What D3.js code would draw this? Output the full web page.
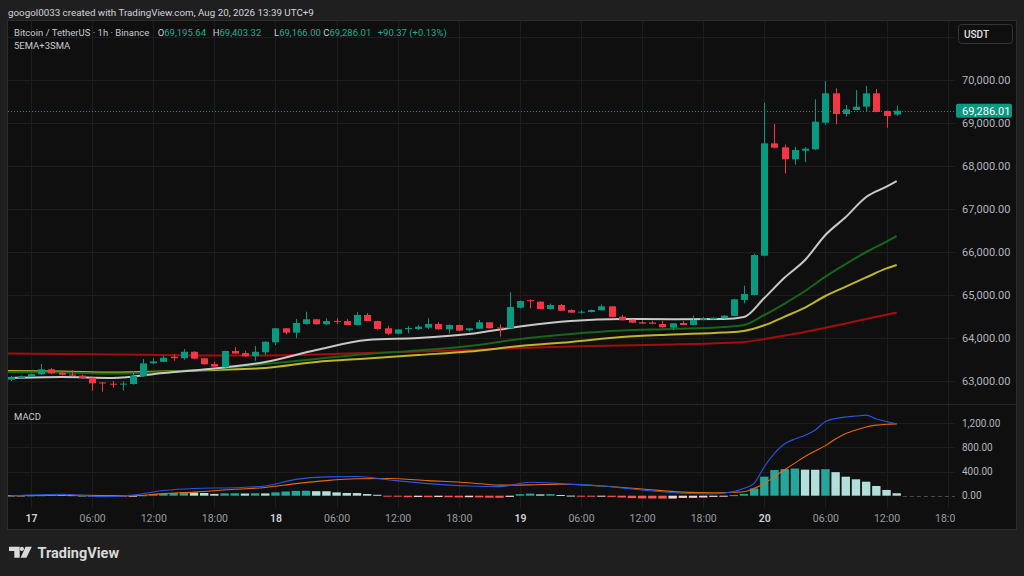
<!DOCTYPE html>
<html>
<head>
<meta charset="utf-8">
<script src="https://cdn.jsdelivr.net/npm/d3@7"></script>
<style>
  html, body { margin: 0; padding: 0; background: #1f1f1f; }
  svg { display: block; font-family: Roboto, "Noto Sans", sans-serif; }
</style>
</head>
<body>
<svg id="chart" width="1024" height="576"></svg>
<script>
// hourly candles, first one is Aug 16 22:00
var HOUR = 3600000;
var t0 = Date.UTC(2026, 7, 16, 22);

var opens  = [63030,63070,63100,63156,63272,63195,63150,63125,63075,62965,62937,62920,62930,63110,63412,63445,63565,63530,63680,63528,
              63395,63320,63698,63650,63575,63667,63900,64226,64125,64326,64435,64320,64398,64395,64302,64535,64395,64226,64100,64205,
              64210,64240,64326,64202,64302,64179,64216,64365,64245,64226,64705,64880,64845,64674,64767,64651,64590,64605,64644,64737,
              64496,64426,64365,64360,64326,64240,64349,64302,64426,64435,64458,64512,64884,65000,65914,68527,68435,68156,68356,68388,
              69007,69690,69209,69302,69380,69690,69280,69195.64];
var highs  = [63120,63130,63170,63395,63300,63205,63255,63150,63080,62975,63000,62990,63233,63512,63528,63590,63620,63745,63690,63530,
              63450,63705,63785,63705,63815,63920,64235,64230,64442,64612,64440,64460,64460,64440,64600,64580,64400,64286,64210,64280,
              64300,64458,64370,64320,64310,64235,64420,64370,64318,65063,64870,64900,64850,64800,64790,64670,64650,64665,64780,64745,
              64540,64430,64410,64400,64400,64350,64395,64520,64490,64480,64530,64910,65217,65960,69473,68977,68500,68450,68440,69551,
              69977,69806,69419,69767,69860,69790,69290,69403.32];
var lows   = [63000,63060,63095,63140,63160,63135,63110,63050,62775,62750,62845,62775,62915,63100,63395,63440,63470,63495,63510,63380,
              63325,63310,63630,63565,63470,63605,63837,64085,63993,64310,64310,64300,64320,64295,64295,64390,64195,64070,64080,64110,
              64190,64210,64195,64110,64160,64150,64210,64220,64030,64220,64690,64690,64670,64665,64630,64585,64570,64595,64640,64485,
              64405,64350,64325,64320,64240,64190,64295,64295,64420,64430,64450,64505,64807,64990,65900,68410,67822,68030,68093,68370,
              68953,68969,69150,69295,69263,69250,68891,69166.00];
var closes = [63090,63110,63160,63272,63180,63145,63125,63070,62945,62955,62915,62940,63116,63410,63455,63540,63530,63680,63520,63390,
              63335,63698,63638,63575,63680,63914,64226,64125,64350,64435,64320,64395,64392,64302,64535,64395,64210,64100,64200,64232,
              64264,64326,64202,64302,64171,64226,64365,64226,64235,64721,64860,64870,64675,64767,64635,64590,64612,64651,64737,64490,
              64412,64357,64335,64330,64250,64342,64302,64419,64458,64472,64519,64900,65023,65930,68527,68426,68156,68372,68403,69031,
              69690,69209,69318,69380,69690,69256,69165,69286.01];

// moving averages read at these candle positions
var maIdx    = [-0.3,5,10,15,20,25,30,35,40,45,50,55,60,65,70,72,74,76,78,80,82,84,86,87];
var maWhite  = [63070,63093,63070,63186,63291,63442,63721,63953,64000,64093,64267,64395,64442,64435,64442,64488,64930,65407,65814,66395,66814,67279,67521,67651];
var maGreen  = [63209,63198,63174,63209,63279,63395,63512,63628,63709,63814,63977,64093,64174,64209,64256,64302,64535,64802,65093,65426,65721,66000,66244,66372];
var maYellow = [63233,63221,63198,63221,63256,63302,63442,63523,63605,63686,63814,63907,64023,64081,64128,64163,64295,64498,64707,64977,65195,65409,65619,65698];
var maRed    = [63640,63628,63616,63605,63593,63593,63616,63651,63686,63721,63767,63802,63826,63849,63884,63907,63974,64056,64140,64237,64337,64442,64542,64593];

// MACD pane
var macdIdx    = [0,5,9,12,15,18,22,25,28,31,34,37,41,45,48,51,54,58,62,66,69,71,72,73,74,75,76,77,78,79,80,81,82,83,84,85,86,87];
var macdLine   = [0,25,-15,10,85,120,133,160,270,312,318,265,200,160,150,222,200,160,95,40,30,70,122,205,480,700,860,940,1000,1090,1230,1280,1305,1320,1335,1270,1230,1190];
var signalLine = [0,8,3,0,35,60,106,137,200,250,280,285,250,215,175,180,190,160,110,60,50,58,66,122,200,320,430,540,650,740,830,940,1030,1090,1140,1170,1185,1190];
var histogram  = [5,5,6,8,12,12,10,5,-5,-10,-14,-14,-8,8,25,35,45,55,52,45,
                  30,38,40,36,40,38,55,70,80,82,75,74,55,45,44,28,15,-8,-15,-25,
                  -22,-25,-22,-25,-28,-25,-28,-32,-33,-20,25,35,22,26,12,2,-5,-10,-9,-20,
                  -30,-40,-45,-46,-48,-47,-36,-35,-30,-20,-10,10,30,120,315,425,440,450,432,430,
                  440,390,315,272,232,161,95,40];

var priceTicks = [63000,64000,65000,66000,67000,68000,69000,70000];
var priceGrid  = [63000,64000,65000,66000,67000,68000,69000,70000,71000];
var macdTicks  = [0,400,800,1200];

var upColor = "#089981", downColor = "#f23645";
var gridColor = "#1d1d1d";
var lastClose = closes[closes.length - 1];

function tAt(i) { return new Date(t0 + i * HOUR); }

var svg = d3.select("#chart");
var plotLeft = 8, plotRight = 955, plotTop = 21, priceBottom = 404, macdBottom = 508, plotBottom = 529;

var x = d3.scaleUtc().domain([tAt(0), tAt(87)]).range([10.7, 896.7]);
var step = x(tAt(1)) - x(tAt(0));
var y = d3.scaleLinear().domain([63000, 70000]).range([381, 80]);
var ym = d3.scaleLinear().domain([0, 1200]).range([495.7, 423.3]);

// background + panel
svg.append("rect").attr("width", 1024).attr("height", 576).attr("fill", "#1f1f1f");
svg.append("rect").attr("x", 7.5).attr("y", 20.5).attr("width", 1009).attr("height", 509)
  .attr("fill", "#0f0f0f").attr("stroke", "#2c2c2c");

var defs = svg.append("defs");
defs.append("clipPath").attr("id", "clipPrice").append("rect")
  .attr("x", plotLeft).attr("y", plotTop).attr("width", plotRight - plotLeft).attr("height", priceBottom - plotTop);
defs.append("clipPath").attr("id", "clipMacd").append("rect")
  .attr("x", plotLeft).attr("y", priceBottom).attr("width", plotRight - plotLeft).attr("height", macdBottom - priceBottom);
defs.append("clipPath").attr("id", "clipTime").append("rect")
  .attr("x", plotLeft).attr("y", macdBottom).attr("width", plotRight - plotLeft).attr("height", plotBottom - macdBottom);

// grid
var timeTicks = d3.utcHour.every(6).range(x.invert(plotLeft), x.invert(plotRight + 2));
var grid = svg.append("g");
grid.selectAll(".vg").data(timeTicks).enter().append("line")
  .attr("x1", function(d) { return Math.round(x(d)) + 0.5; })
  .attr("x2", function(d) { return Math.round(x(d)) + 0.5; })
  .attr("y1", plotTop).attr("y2", macdBottom)
  .attr("stroke", gridColor);
grid.selectAll(".hg").data(priceGrid).enter().append("line")
  .attr("x1", plotLeft).attr("x2", plotRight)
  .attr("y1", function(d) { return Math.round(y(d)) + 0.5; })
  .attr("y2", function(d) { return Math.round(y(d)) + 0.5; })
  .attr("stroke", gridColor);
grid.selectAll(".mg").data(macdTicks.slice(1)).enter().append("line")
  .attr("x1", plotLeft).attr("x2", plotRight)
  .attr("y1", function(d) { return Math.round(ym(d)) + 0.5; })
  .attr("y2", function(d) { return Math.round(ym(d)) + 0.5; })
  .attr("stroke", gridColor);
// pane separator
svg.append("line").attr("x1", plotLeft).attr("x2", 1016).attr("y1", 404.5).attr("y2", 404.5)
  .attr("stroke", "#262626");

// price pane
var pricePane = svg.append("g").attr("clip-path", "url(#clipPrice)");

var maLine = d3.line()
  .x(function(d) { return x(tAt(d[0])); })
  .y(function(d) { return y(d[1]); })
  .curve(d3.curveMonotoneX);

[[maRed, "#a50d0d"], [maYellow, "#bdb52a"], [maGreen, "#17661a"], [maWhite, "#c8c8c8"]].forEach(function(s) {
  pricePane.append("path")
    .datum(maIdx.map(function(i, k) { return [i, s[0][k]]; }))
    .attr("d", maLine)
    .attr("fill", "none")
    .attr("stroke", s[1])
    .attr("stroke-width", 2);
});

var candles = opens.map(function(o, i) {
  return { t: tAt(i), o: o, h: highs[i], l: lows[i], c: closes[i] };
});
var bw = Math.round(step * 0.7);

pricePane.selectAll(".wick").data(candles).enter().append("line")
  .attr("x1", function(d) { return Math.round(x(d.t)) + 0.5; })
  .attr("x2", function(d) { return Math.round(x(d.t)) + 0.5; })
  .attr("y1", function(d) { return y(d.h); })
  .attr("y2", function(d) { return y(d.l); })
  .attr("stroke", function(d) { return d.c >= d.o ? upColor : downColor; })
  .attr("stroke-width", 1);

pricePane.selectAll(".body").data(candles).enter().append("rect")
  .attr("x", function(d) { return Math.round(x(d.t)) + 0.5 - bw / 2; })
  .attr("y", function(d) { return y(Math.max(d.o, d.c)); })
  .attr("width", bw)
  .attr("height", function(d) { return Math.max(1, Math.abs(y(d.o) - y(d.c))); })
  .attr("fill", function(d) { return d.c >= d.o ? upColor : downColor; });

// last price dotted line
pricePane.append("line")
  .attr("x1", plotLeft).attr("x2", plotRight)
  .attr("y1", Math.round(y(lastClose)) + 0.5).attr("y2", Math.round(y(lastClose)) + 0.5)
  .attr("stroke", upColor).attr("stroke-dasharray", "1,2");

// MACD pane
var macdPane = svg.append("g").attr("clip-path", "url(#clipMacd)");
var hw = step - 1.8;
macdPane.selectAll(".hist").data(histogram).enter().append("rect")
  .attr("x", function(d, i) { return x(tAt(i)) - hw / 2; })
  .attr("y", function(d) { return Math.min(ym(d), ym(0)); })
  .attr("width", hw)
  .attr("height", function(d) { return Math.max(1, Math.abs(ym(d) - ym(0))); })
  .attr("fill", function(d, i) {
    var prev = i > 0 ? histogram[i - 1] : d;
    if (d >= 0) return prev < d ? "#26a69a" : "#b2dfdb";
    return prev < d ? "#ffcdd2" : "#ff5252";
  });

macdPane.append("line")
  .attr("x1", x(tAt(87)) + hw / 2 + 2).attr("x2", plotRight)
  .attr("y1", Math.round(ym(0)) + 0.5).attr("y2", Math.round(ym(0)) + 0.5)
  .attr("stroke", "#4a4a4a").attr("stroke-dasharray", "4,3");

var macdPath = d3.line()
  .x(function(d) { return x(tAt(d[0])); })
  .y(function(d) { return ym(d[1]); })
  .curve(d3.curveMonotoneX);

[[signalLine, "#e8680c"], [macdLine, "#2a55e6"]].forEach(function(s) {
  macdPane.append("path")
    .datum(macdIdx.map(function(i, k) { return [i, s[0][k]]; }))
    .attr("d", macdPath)
    .attr("fill", "none")
    .attr("stroke", s[1])
    .attr("stroke-width", 1.1);
});

// axes
var priceAxis = svg.append("g")
  .attr("transform", "translate(" + plotRight + ",0)")
  .call(d3.axisRight(y).tickValues(priceTicks).tickFormat(d3.format(",.2f")).tickSize(0).tickPadding(7));
var macdAxis = svg.append("g")
  .attr("transform", "translate(" + plotRight + ",0)")
  .call(d3.axisRight(ym).tickValues(macdTicks).tickFormat(d3.format(",.2f")).tickSize(0).tickPadding(7));
[priceAxis, macdAxis].forEach(function(a) {
  a.select(".domain").remove();
  a.selectAll("text").attr("fill", "#b2b5be").attr("font-family", "Roboto, sans-serif");
});
priceAxis.selectAll("text").attr("font-size", 11);
macdAxis.selectAll("text").attr("font-size", 10);

var timeFmt = function(d) {
  return d.getUTCHours() === 0 ? String(d.getUTCDate()) : d3.utcFormat("%H:%M")(d);
};
var timeAxis = svg.append("g")
  .attr("clip-path", "url(#clipTime)")
  .append("g")
  .attr("transform", "translate(0," + macdBottom + ")")
  .call(d3.axisBottom(x).tickValues(timeTicks).tickFormat(timeFmt).tickSize(0).tickPadding(7));
timeAxis.select(".domain").remove();
timeAxis.selectAll("text")
  .attr("font-size", 10.5)
  .attr("font-family", "Roboto, sans-serif")
  .attr("fill", function(d) { return d.getUTCHours() === 0 ? "#d1d4dc" : "#9a9da6"; })
  .attr("font-weight", function(d) { return d.getUTCHours() === 0 ? 600 : 400; });

// last price label
svg.append("rect").attr("x", 956).attr("y", y(lastClose) - 7).attr("width", 56).attr("height", 14)
  .attr("rx", 2).attr("fill", upColor);
svg.append("text").attr("x", 962).attr("y", y(lastClose) + 3.9)
  .attr("font-size", 11).attr("fill", "#ffffff")
  .text(d3.format(",.2f")(lastClose));

// USDT box
svg.append("rect").attr("x", 958.5).attr("y", 24.5).attr("width", 54).attr("height", 19)
  .attr("rx", 3).attr("fill", "#0f0f0f").attr("stroke", "#353535");
svg.append("text").attr("x", 964).attr("y", 37.5).attr("font-size", 10).attr("font-weight", 500)
  .attr("fill", "#e0e0e0").text("USDT");

// header texts
svg.append("text").attr("x", 8).attr("y", 15.7).attr("font-size", 9.8).attr("fill", "#d1d4dc")
  .text("googol0033 created with TradingView.com, Aug 20, 2026 13:39 UTC+9");

var legend = svg.append("text").attr("y", 36.4).attr("font-size", 9.5).attr("fill", "#c8cad0");
legend.append("tspan").attr("x", 14).text("Bitcoin / TetherUS \u00b7 1h \u00b7 Binance");
var green = "#22ab94";
var ohlc = [["O", opens], ["H", highs], ["L", lows], ["C", closes]];
var ohlcX = [157.7, 212.7, 274, 323.3];
ohlc.forEach(function(p, k) {
  legend.append("tspan").attr("x", ohlcX[k]).text(p[0]);
  legend.append("tspan").attr("fill", green).text(d3.format(",.2f")(p[1][p[1].length - 1]));
});
legend.append("tspan").attr("x", 377.7).attr("fill", green).text("+90.37 (+0.13%)");

svg.append("text").attr("x", 14).attr("y", 49).attr("font-size", 9.5).attr("fill", "#c8cad0").text("5EMA+3SMA");
svg.append("text").attr("x", 14).attr("y", 420).attr("font-size", 9.5).attr("fill", "#c8cad0").text("MACD");

// TradingView logo
var logo = svg.append("g").attr("fill", "#d9d9d9");
logo.append("path").attr("d", "M9,546.7 H19.7 V557.7 H14.3 V550.9 H9 Z");
logo.append("circle").attr("cx", 21.9).attr("cy", 548.9).attr("r", 2.1);
logo.append("path").attr("d", "M25.6,546.7 H31.8 L26.4,557.7 H20.6 Z");
svg.append("text").attr("x", 37.5).attr("y", 558).attr("font-size", 14.5).attr("font-weight", 700)
  .attr("fill", "#d9d9d9").text("TradingView");
</script>
</body>
</html>
